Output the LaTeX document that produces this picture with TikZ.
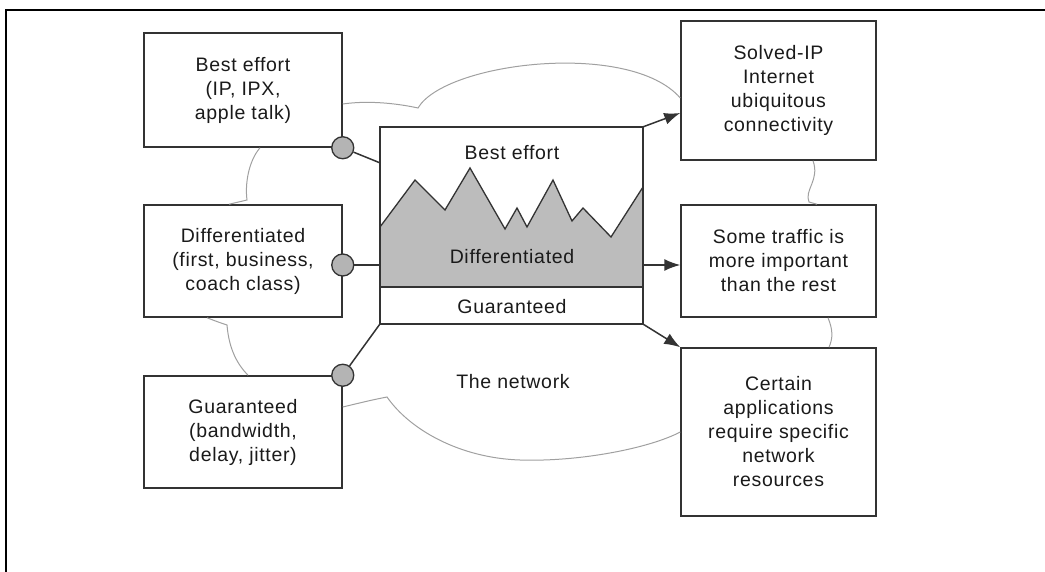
\documentclass[tikz,border=0pt]{standalone}
\usepackage{fontspec}
\setmainfont{Liberation Sans}[LetterSpace=3.5]
\usetikzlibrary{arrows.meta,calc}
\definecolor{boxc}{HTML}{333333}
\definecolor{textc}{HTML}{1A1A1A}
\definecolor{cloudc}{HTML}{A0A0A0}
\definecolor{portc}{HTML}{B4B4B4}
\definecolor{mountc}{HTML}{BCBCBC}
\tikzset{
  box/.style={draw=boxc, line width=1.5pt, fill=white, align=center, inner sep=0pt,
    font=\fontsize{19.5}{24}\selectfont, text=textc},
  port/.style={circle, draw=boxc, line width=1.3pt, fill=portc, minimum size=22pt, inner sep=0pt},
  cloudline/.style={draw=cloudc, line width=1pt},
  link/.style={draw=boxc, line width=1.5pt},
  arr/.style={link, -{Latex[length=16pt,width=12pt]}},
  lbl/.style={inner sep=0pt, font=\fontsize{19.5}{24}\selectfont, text=textc},
  frameline/.style={draw=black, line width=2pt}
}
\begin{document}
\begin{tikzpicture}[x=1pt,y=-1pt]
\useasboundingbox (0,0) rectangle (1045,572);
% outer frame (cropped)
\coordinate (fbl) at (6,572);
\coordinate (ftl) at (6,10);
\coordinate (ftr) at (1045,10);
\draw[frameline] (fbl) -- (ftl) -- (ftr);

% boxes
\node[box, minimum width=198pt, minimum height=114pt] (b1) at (243,90) {Best effort\\(IP, IPX,\\apple talk)};
\node[box, minimum width=198pt, minimum height=112pt] (b2) at (243,261) {Differentiated\\(first, business,\\coach class)};
\node[box, minimum width=198pt, minimum height=112pt] (b3) at (243,432) {Guaranteed\\(bandwidth,\\delay, jitter)};
\node[box, minimum width=195pt, minimum height=139pt] (r1) at (778.5,90.5) {Solved-IP\\Internet\\ubiquitous\\connectivity};
\node[box, minimum width=195pt, minimum height=112pt] (r2) at (778.5,261) {Some traffic is\\more important\\than the rest};
\node[box, minimum width=195pt, minimum height=168pt] (r3) at (778.5,432) {Certain\\applications\\require specific\\network\\resources};

% cloud outline
\draw[cloudline] ($(b1.east)+(0,14)$) .. controls (370,100) and (400,104) .. (418,108)
   .. controls (445,62) and (630,40) .. ($(r1.west)+(0,7.5)$);
\draw[cloudline] ($(r1.south)+(34.5,0)$) .. controls (820,180) and (804,190) .. (809,202) -- ($(r2.north)+(38.5,0)$);
\draw[cloudline] ($(r2.south)+(49.5,0)$) .. controls (833,330) and (833,338) .. ($(r3.north)+(50.5,0)$);
\draw[cloudline] ($(r3.west)+(0,0)$) .. controls (650,448) and (580,462) .. (520,460)
   .. controls (460,458) and (410,430) .. (387,397)
   .. controls (372,400) .. ($(b3.east)+(0,-25)$);
\draw[cloudline] ($(b2.south)+(-36,0)$) .. controls (218,322) .. (227,325)
   .. controls (229,350) and (238,365) .. ($(b3.north)+(5,0)$);
\draw[cloudline] ($(b1.south)+(17,0)$) .. controls (248,162) and (245,185) .. (247,200) -- ($(b2.north)+(-14,0)$);

% central box
\node[fill=white, minimum width=263pt, minimum height=197pt, inner sep=0pt] (cb) at (511.5,225.5) {};
\coordinate (gtop) at ($(cb.south west)+(0,-37)$);
\coordinate (gtopr) at ($(cb.south east)+(0,-37)$);
\fill[mountc] (380,227) -- (415,180) -- (445,210) -- (470,168) -- (505,229) -- (517,208) -- (527,227)
  -- (553,180) -- (572,221) -- (583,208) -- (611,237) -- (643,187) -- (gtopr) -- (gtop) -- cycle;
\draw[boxc, line width=1.3pt, line join=miter] (380,227) -- (415,180) -- (445,210) -- (470,168) -- (505,229) -- (517,208) -- (527,227)
  -- (553,180) -- (572,221) -- (583,208) -- (611,237) -- (643,187);
\draw[link] (gtop) -- (gtopr);
\draw[link] (cb.north west) rectangle (cb.south east);
\node[lbl] (tbe) at (512,153) {Best effort};
\node[lbl] (tdi) at (512,257) {Differentiated};
\node[lbl] (tgu) at (512,307) {Guaranteed};
\node[lbl] (tnet) at (513,382) {The network};

% ports and links
\node[port] (c1) at (b1.south east) {};
\node[port] (c2) at ($(b2.east)+(0,4)$) {};
\node[port] (c3) at (b3.north east) {};
\draw[link] (c1) -- ($(cb.north west)+(0,36)$);
\draw[link] (c2) -- (cb.west |- c2);
\draw[link] (c3) -- (cb.south west);

% arrows
\draw[arr] (cb.north east) -- ($(r1.west)+(0,22.5)$);
\draw[arr] (cb.east |- c2) -- (r2.west |- c2);
\draw[arr] (cb.south east) -- (r3.north west);
\end{tikzpicture}
\end{document}
